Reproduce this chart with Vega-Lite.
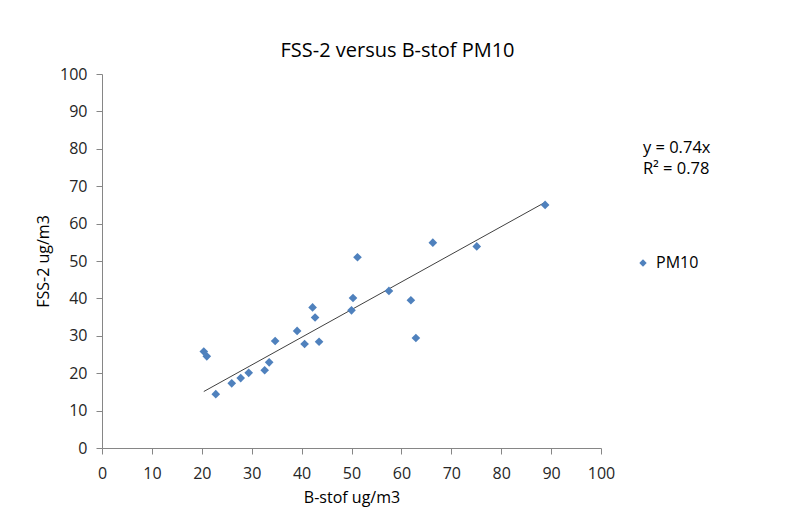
{
  "$schema": "https://vega.github.io/schema/vega-lite/v6.json",
  "autosize": "none",
  "width": 499,
  "height": 374,
  "padding": {"left": 102, "top": 74, "right": 191, "bottom": 65},
  "background": "white",
  "config": {
    "font": "Open Sans",
    "view": {"stroke": null}
  },
  "title": {
    "text": "FSS-2 versus B-stof PM10",
    "font": "Open Sans",
    "fontSize": 20,
    "fontWeight": "normal",
    "color": "#000000",
    "anchor": "middle",
    "dx": 46,
    "offset": 5
  },
  "datasets": {
    "points": [
      {"x": 20.4, "y": 25.8, "series": "PM10"},
      {"x": 21.0, "y": 24.5, "series": "PM10"},
      {"x": 22.8, "y": 14.4, "series": "PM10"},
      {"x": 26.0, "y": 17.3, "series": "PM10"},
      {"x": 27.8, "y": 18.7, "series": "PM10"},
      {"x": 29.4, "y": 20.1, "series": "PM10"},
      {"x": 32.6, "y": 20.8, "series": "PM10"},
      {"x": 33.5, "y": 22.9, "series": "PM10"},
      {"x": 34.7, "y": 28.6, "series": "PM10"},
      {"x": 39.1, "y": 31.3, "series": "PM10"},
      {"x": 40.6, "y": 27.8, "series": "PM10"},
      {"x": 42.2, "y": 37.6, "series": "PM10"},
      {"x": 42.7, "y": 34.9, "series": "PM10"},
      {"x": 43.5, "y": 28.4, "series": "PM10"},
      {"x": 50.0, "y": 36.8, "series": "PM10"},
      {"x": 50.3, "y": 40.1, "series": "PM10"},
      {"x": 51.2, "y": 51.0, "series": "PM10"},
      {"x": 57.5, "y": 42.0, "series": "PM10"},
      {"x": 61.9, "y": 39.5, "series": "PM10"},
      {"x": 62.9, "y": 29.4, "series": "PM10"},
      {"x": 66.3, "y": 54.9, "series": "PM10"},
      {"x": 75.1, "y": 53.9, "series": "PM10"},
      {"x": 88.8, "y": 65.0, "series": "PM10"}
    ],
    "trend": [
      {"x": 20.4, "y": 15.1},
      {"x": 88.8, "y": 65.7}
    ],
    "labels": [
      {"x": 108.4, "y": 80.2, "text": "y = 0.74x"},
      {"x": 108.4, "y": 74.6, "text": "R² = 0.78"}
    ]
  },
  "encoding": {
    "x": {
      "field": "x", "type": "quantitative",
      "scale": {"domain": [0, 100], "nice": false},
      "axis": {
        "values": [0,10,20,30,40,50,60,70,80,90,100],
        "title": "B-stof ug/m3",
        "grid": false,
        "domainColor": "#868686", "tickColor": "#868686", "tickSize": 6,
        "labelColor": "#262626", "labelFont": "Open Sans", "labelFontSize": 16, "labelOverlap": false, "labelFlush": false, "labelPadding": 11,
        "titleFont": "Open Sans", "titleFontSize": 16, "titleFontWeight": "normal", "titleColor": "#000000", "titlePadding": 8
      }
    },
    "y": {
      "field": "y", "type": "quantitative",
      "scale": {"domain": [0, 100], "nice": false},
      "axis": {
        "values": [0,10,20,30,40,50,60,70,80,90,100],
        "title": "FSS-2 ug/m3",
        "grid": false,
        "domainColor": "#868686", "tickColor": "#868686", "tickSize": 6,
        "labelColor": "#262626", "labelFont": "Open Sans", "labelFontSize": 16, "labelOverlap": false, "labelFlush": false, "labelPadding": 9,
        "titleFont": "Open Sans", "titleFontSize": 16, "titleFontWeight": "normal", "titleColor": "#000000", "titlePadding": 8
      }
    }
  },
  "layer": [
    {
      "data": {"name": "trend"},
      "mark": {"type": "line", "color": "#404040", "strokeWidth": 1}
    },
    {
      "data": {"name": "points"},
      "mark": {"type": "point", "shape": "diamond", "filled": true, "size": 75, "opacity": 1},
      "encoding": {
        "color": {
          "field": "series",
          "type": "nominal",
          "scale": {"range": ["#4F81BD"]},
          "legend": {
            "title": null,
            "orient": "none",
            "legendX": 533,
            "legendY": 181,
            "symbolType": "diamond",
            "symbolSize": 55,
            "labelFontSize": 16,
            "labelFont": "Open Sans",
            "labelColor": "#000000",
            "labelOffset": 5,
            "padding": 0
          }
        }
      }
    },
    {
      "data": {"name": "labels"},
      "mark": {"type": "text", "align": "left", "baseline": "middle", "fontSize": 16.5, "font": "Open Sans", "color": "#000000", "clip": false},
      "encoding": {
        "text": {"field": "text"}
      }
    }
  ]
}
